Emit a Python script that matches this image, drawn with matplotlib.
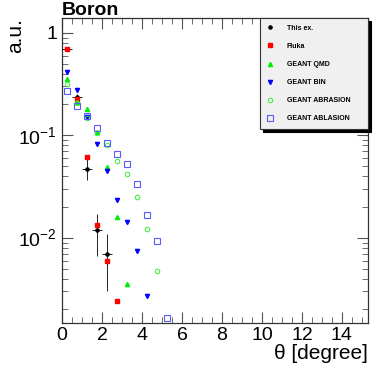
import numpy as np
import matplotlib
matplotlib.use("Agg")
import matplotlib.pyplot as plt
from matplotlib.lines import Line2D
from matplotlib.ticker import MultipleLocator, LogLocator, FixedLocator

plt.rcParams['font.family'] = ['Liberation Sans', 'DejaVu Sans']
plt.rcParams['mathtext.fontset'] = 'custom'
plt.rcParams['mathtext.rm'] = 'Liberation Sans'

# data (bin centres in degrees)
x_exp = [0.25, 0.75, 1.25, 1.75, 2.25]
y_exp = [0.70, 0.238, 0.0474, 0.0118, 0.0070]
yerr_exp = [0.02, 0.015, 0.011, 0.0052, 0.0040]

x_fluka = [0.25, 0.75, 1.25, 1.75, 2.25, 2.75]
y_fluka = [0.70, 0.227, 0.0612, 0.0133, 0.0059, 0.00243]

x_qmd = [0.25, 0.75, 1.25, 1.75, 2.25, 2.75, 3.25]
y_qmd = [0.358, 0.21, 0.181, 0.108, 0.049, 0.0159, 0.00358]

x_bin = [0.25, 0.75, 1.25, 1.75, 2.25, 2.75, 3.25, 3.75, 4.25]
y_bin = [0.417, 0.274, 0.152, 0.083, 0.0446, 0.0236, 0.0143, 0.00746, 0.00269]

x_abr = [0.25, 0.75, 1.25, 1.75, 2.25, 2.75, 3.25, 3.75, 4.25, 4.75]
y_abr = [0.318, 0.207, 0.146, 0.106, 0.080, 0.056, 0.0424, 0.0251, 0.01225, 0.00476]

x_abl = [0.25, 0.75, 1.25, 1.75, 2.25, 2.75, 3.25, 3.75, 4.25, 4.75, 5.25]
y_abl = [0.269, 0.194, 0.154, 0.119, 0.0845, 0.0664, 0.053, 0.0336, 0.01675, 0.00941, 0.00166]

fig = plt.figure(figsize=(3.88, 3.72), dpi=100)
ax = fig.add_axes([0.160, 0.132, 0.788, 0.820])

ax.errorbar(x_exp, y_exp, yerr=yerr_exp, xerr=0.25, fmt='o', color='black',
            ms=2.3, elinewidth=0.6, capsize=0, zorder=2.5)
ax.plot(x_fluka, y_fluka, 's', color='#ff0000', ms=3, label='Fluka', zorder=3)
ax.plot(x_qmd, y_qmd, '^', color='#00ee00', ms=3, label='GEANT QMD', zorder=3)
ax.plot(x_bin, y_bin, 'v', color='#0000ff', ms=3, label='GEANT BIN', zorder=3)
ax.plot(x_abr, y_abr, 'o', mfc='none', mec='#33ee33', mew=0.7, ms=3.3,
        label='GEANT ABRASION', zorder=3)
ax.plot(x_abl, y_abl, 's', mfc='none', mec='#5a5aff', mew=0.8, ms=3.8,
        label='GEANT ABLASION', zorder=3)

ax.set_yscale('log')
ax.set_xlim(0, 15.3)
ax.set_ylim(1.48e-3, 1.4)

ax.xaxis.set_major_locator(MultipleLocator(2))
ax.xaxis.set_minor_locator(MultipleLocator(0.5))
ax.yaxis.set_major_locator(FixedLocator([1e-2, 1e-1, 1]))
ax.yaxis.set_minor_locator(LogLocator(base=10, subs=np.arange(2, 10)))
ax.yaxis.set_minor_formatter(plt.NullFormatter())
ax.set_yticklabels(['$10^{-2}$', '$10^{-1}$', '1'])

ax.tick_params(which='both', direction='in', top=True, right=True,
               color='#555555', labelsize=14)
ax.tick_params(which='major', length=8, width=0.8)
ax.tick_params(which='minor', length=4, width=0.6)
ax.tick_params(axis='x', pad=3)
for s in ax.spines.values():
    s.set_linewidth(0.9)
    s.set_color('#333333')

fig.text(0.160, 0.995, 'Boron', fontsize=14, fontweight='bold', va='top', ha='left')
fig.text(0.04, 0.95, 'a.u.', fontsize=15, rotation=90, va='top', ha='center')
fig.text(0.948, 0.035, 'θ [degree]', fontsize=15, ha='right', va='baseline')

# legend: plain dot for the data, like the reference
h, l = ax.get_legend_handles_labels()
dot = Line2D([], [], marker='o', ls='none', color='black', ms=2.3)
h = [dot] + h
l = ['This ex.'] + l
leg = ax.legend(h, l,
                loc='upper left', bbox_to_anchor=(0.647, 0.0, 0.353, 1.0),
                mode='expand',
                prop={'weight': 'bold', 'size': 5},
                frameon=True, fancybox=False,
                shadow={'color': 'black', 'alpha': 1.0},
                borderpad=1.0, labelspacing=1.6, handletextpad=1.9,
                borderaxespad=0.0, handlelength=1.0)
leg.get_frame().set_facecolor('#f0f0f0')
leg.get_frame().set_edgecolor('#333333')
leg.get_frame().set_linewidth(0.8)
leg.get_frame().set_alpha(1.0)

fig.savefig('out.png', dpi=100)
